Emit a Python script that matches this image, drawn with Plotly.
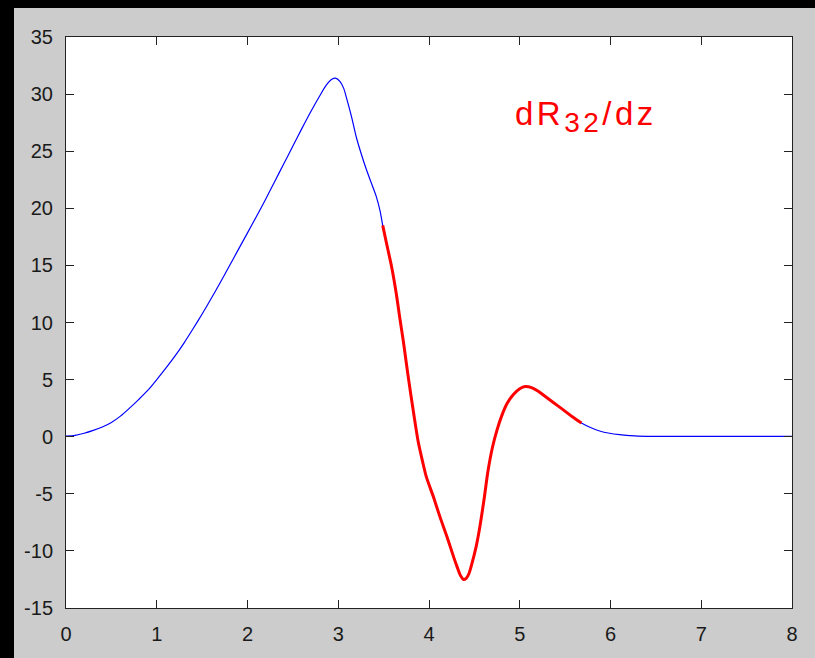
import plotly.graph_objects as go

# Curve samples (z, dR32/dz)
z = [0.0, 0.1, 0.2, 0.3, 0.4, 0.5, 0.6, 0.7, 0.8, 0.9, 1.0, 1.1, 1.2, 1.3, 1.4,
     1.5, 1.6, 1.7, 1.8, 1.9, 2.0, 2.1, 2.2, 2.3, 2.4, 2.5, 2.6, 2.7, 2.8, 2.87,
     2.93, 2.97, 3.02, 3.06, 3.10, 3.15, 3.20, 3.26, 3.31, 3.37, 3.42, 3.46, 3.49,
     3.53, 3.59, 3.64, 3.68, 3.72, 3.77, 3.83, 3.88, 3.93, 3.97, 4.05, 4.12, 4.20,
     4.27, 4.31, 4.35, 4.38, 4.41, 4.44, 4.47, 4.52, 4.56, 4.61, 4.65, 4.70, 4.75,
     4.80, 4.86, 4.93, 5.00, 5.06, 5.13, 5.20, 5.26, 5.37, 5.48, 5.58, 5.68, 5.78,
     5.88, 5.99, 6.10, 6.21, 6.30, 7.0, 8.0]
dR = [0.05, 0.12, 0.3, 0.55, 0.85, 1.25, 1.8, 2.5, 3.25, 4.05, 5.0, 6.0, 7.05,
      8.2, 9.45, 10.75, 12.1, 13.5, 14.95, 16.4, 17.85, 19.3, 20.8, 22.35, 23.9,
      25.45, 27.0, 28.5, 29.9, 30.8, 31.3, 31.4, 31.1, 30.5, 29.4, 27.9, 26.2, 24.6,
      23.4, 22.1, 21.0, 19.8, 18.5, 17.0, 14.8, 12.5, 10.3, 8.2, 5.3, 2.1, -0.4,
      -2.2, -3.5, -5.3, -7.0, -8.8, -10.5, -11.4, -12.2, -12.5, -12.4, -12.0, -11.2,
      -9.6, -7.9, -5.3, -3.0, -0.9, 0.6, 1.8, 2.9, 3.7, 4.2, 4.4, 4.3, 4.0, 3.65,
      3.0, 2.35, 1.75, 1.2, 0.8, 0.5, 0.3, 0.18, 0.1, 0.05, 0.03, 0.03]

# Highlighted (red) segment limits
red_start, red_end = 3.49, 5.68

x_ticks = [0, 1, 2, 3, 4, 5, 6, 7, 8]
y_ticks = [-15, -10, -5, 0, 5, 10, 15, 20, 25, 30, 35]

z_red = [a for a in z if red_start <= a <= red_end]
dR_red = [b for a, b in zip(z, dR) if red_start <= a <= red_end]

fig = go.Figure()
fig.add_trace(go.Scatter(x=z, y=dR, mode="lines",
                         line=dict(color="#0000ff", width=1.2, shape="spline", smoothing=0.8),
                         hoverinfo="skip"))
fig.add_trace(go.Scatter(x=z_red, y=dR_red, mode="lines",
                         line=dict(color="#ff0000", width=3, shape="spline", smoothing=0.8),
                         hoverinfo="skip"))

W, H = 815, 658
L, R, T, B = 66, 23, 37, 50
pw, ph = W - L - R, H - T - B

def px_to_paper_x(px):
    return (px - L) / pw

def px_to_paper_y(py):
    return (H - B - py) / ph

shapes = [
    # black frame strips (left and top)
    dict(type="rect", xref="paper", yref="paper", layer="below",
         x0=px_to_paper_x(0), x1=px_to_paper_x(14), y0=px_to_paper_y(H), y1=px_to_paper_y(0),
         fillcolor="black", line=dict(width=0)),
    dict(type="rect", xref="paper", yref="paper", layer="below",
         x0=px_to_paper_x(0), x1=px_to_paper_x(W), y0=px_to_paper_y(8), y1=px_to_paper_y(0),
         fillcolor="black", line=dict(width=0)),
]

axis_common = dict(showgrid=False, zeroline=False, showline=True, linecolor="#222222",
                   linewidth=1, mirror="ticks", ticks="inside", ticklen=8,
                   tickcolor="#222222", tickwidth=1,
                   tickfont=dict(family="Liberation Sans, Arial, sans-serif", size=20,
                                 color="#1a1a1a"))

label = ("<span style='letter-spacing:3.5px'>dR<sub><span style='font-size:28px'>32</span></sub>"
         "/dz</span>")

fig.update_layout(
    width=W, height=H,
    margin=dict(l=L, r=R, t=T, b=B, pad=0),
    paper_bgcolor="#cccccc", plot_bgcolor="#ffffff",
    showlegend=False,
    shapes=shapes,
    xaxis=dict(range=[0, 8], tickvals=x_ticks, ticktext=[str(v) for v in x_ticks], **axis_common),
    yaxis=dict(range=[-15, 35], tickvals=y_ticks, ticktext=[str(v) for v in y_ticks], **axis_common),
    annotations=[dict(x=4.93, y=28.0, xref="x", yref="y", xanchor="left", yanchor="middle",
                      text=label, showarrow=False,
                      font=dict(family="Liberation Sans, Arial, sans-serif", size=33,
                                color="#ff0000"))],
)
fig.update_xaxes(ticklabelstandoff=8)
fig.update_yaxes(ticklabelstandoff=8)

fig.write_html("out.html")
